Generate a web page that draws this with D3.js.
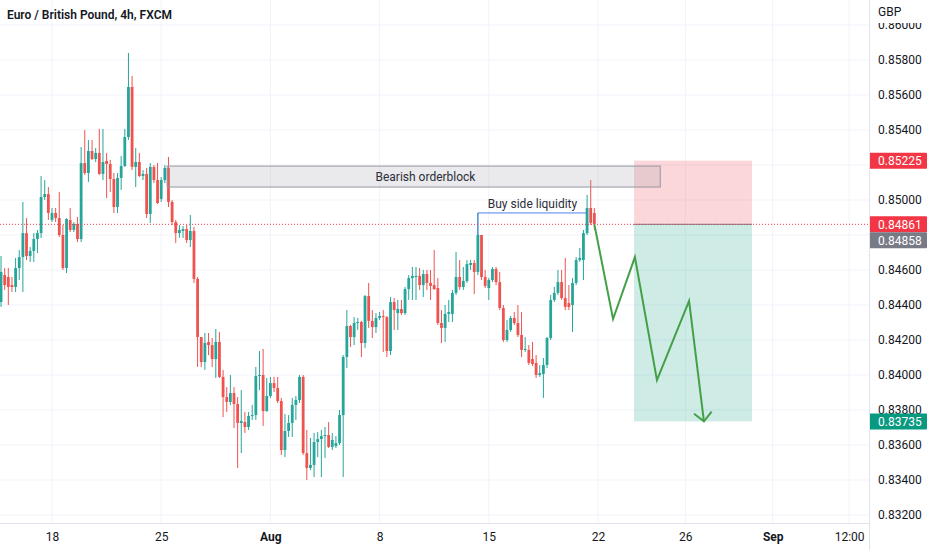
<!DOCTYPE html>
<html>
<head>
<meta charset="utf-8">
<script src="https://cdn.jsdelivr.net/npm/d3@7"></script>
<style>
  body { margin: 0; background: #fff; }
  svg { display: block; font-family: Roboto, "Noto Sans", sans-serif; }
</style>
</head>
<body>
<svg id="chart" width="932" height="550"></svg>
<script>
// =============================================================================
// EUR/GBP 4h candles with trade idea annotations
// =============================================================================

// --- candle data (GBP), oldest first ---
const opens = [
  0.84417,0.84571,0.84560,0.84514,0.84503,0.84611,0.84674,0.84811,0.84680,0.84709,
  0.84777,0.84811,0.85017,0.85034,0.84886,0.84926,0.84897,0.84800,0.84611,0.84886,
  0.84829,0.84863,0.84777,0.85211,0.85154,0.85280,0.85234,0.85269,0.85149,0.85223,
  0.85206,0.85120,0.84960,0.85126,0.85194,0.85360,0.85646,0.85189,0.85217,0.85137,
  0.85149,0.84920,0.85189,0.85114,0.85006,0.85114,0.85183,0.84989,0.84874,0.84811,
  0.84823,0.84834,0.84771,0.84823,0.84549,0.84217,0.84074,0.84189,0.84171,0.84091,
  0.84189,0.83989,0.83874,0.83846,0.83897,0.83834,0.83726,0.83731,0.83703,0.83766,
  0.83771,0.83994,0.84000,0.83794,0.83880,0.83954,0.83926,0.83851,0.83571,0.83680,
  0.83726,0.83829,0.83857,0.83989,0.83554,0.83469,0.83486,0.83617,0.83634,0.83651,
  0.83657,0.83589,0.83594,0.83611,0.83771,0.84103,0.84280,0.84217,0.84297,0.84303,
  0.84183,0.84451,0.84309,0.84274,0.84326,0.84337,0.84331,0.84137,0.84417,0.84354,
  0.84377,0.84354,0.84491,0.84554,0.84560,0.84566,0.84514,0.84577,0.84526,0.84514,
  0.84497,0.84297,0.84269,0.84349,0.84349,0.84469,0.84560,0.84503,0.84537,0.84629,
  0.84640,0.84589,0.84800,0.84560,0.84497,0.84543,0.84606,0.84531,0.84383,0.84200,
  0.84257,0.84326,0.84297,0.84229,0.84143,0.84143,0.84091,0.84069,0.84000,0.84006,
  0.84057,0.84211,0.84429,0.84469,0.84531,0.84440,0.84411,0.84400,0.84526,0.84657,
  0.84657,0.84811,0.84954,0.84926
];
const highs = [
  0.84680,0.84611,0.84611,0.84560,0.84669,0.84714,0.84989,0.84897,0.84731,0.84811,
  0.84829,0.85137,0.85114,0.85074,0.84954,0.84954,0.85046,0.84857,0.84897,0.84954,
  0.84874,0.84903,0.85303,0.85400,0.85343,0.85343,0.85297,0.85406,0.85406,0.85269,
  0.85229,0.85154,0.85154,0.85251,0.85406,0.85840,0.85709,0.85297,0.85269,0.85171,
  0.85183,0.85211,0.85200,0.85211,0.85131,0.85200,0.85246,0.85000,0.84886,0.84857,
  0.84851,0.84857,0.84914,0.84846,0.84560,0.84217,0.84240,0.84240,0.84211,0.84263,
  0.84246,0.84029,0.83931,0.84000,0.83931,0.83874,0.83914,0.83789,0.83789,0.83829,
  0.84046,0.84137,0.84149,0.83983,0.83989,0.83989,0.83989,0.83869,0.83777,0.83771,
  0.83869,0.83880,0.84000,0.84000,0.83686,0.83640,0.83669,0.83674,0.83686,0.83703,
  0.83731,0.83669,0.83651,0.83800,0.84114,0.84371,0.84286,0.84331,0.84326,0.84309,
  0.84457,0.84526,0.84371,0.84354,0.84360,0.84371,0.84337,0.84446,0.84440,0.84429,
  0.84429,0.84503,0.84571,0.84617,0.84617,0.84611,0.84600,0.84600,0.84600,0.84714,
  0.84554,0.84371,0.84400,0.84429,0.84486,0.84703,0.84657,0.84617,0.84657,0.84657,
  0.84657,0.84926,0.84800,0.84600,0.84554,0.84617,0.84617,0.84589,0.84400,0.84314,
  0.84337,0.84360,0.84400,0.84360,0.84217,0.84171,0.84189,0.84114,0.84057,0.84097,
  0.84217,0.84457,0.84503,0.84600,0.84600,0.84669,0.84514,0.84554,0.84674,0.84726,
  0.84829,0.85029,0.85114,0.84954
];
const lows = [
  0.84389,0.84486,0.84400,0.84474,0.84474,0.84543,0.84474,0.84657,0.84646,0.84646,
  0.84697,0.84783,0.85000,0.84886,0.84874,0.84874,0.84789,0.84600,0.84583,0.84817,
  0.84817,0.84760,0.84760,0.85143,0.85103,0.85229,0.85217,0.85143,0.85114,0.85011,
  0.85046,0.84926,0.84926,0.85057,0.85189,0.85343,0.85171,0.85074,0.85131,0.85114,
  0.84897,0.84869,0.85097,0.84977,0.84989,0.85097,0.84960,0.84857,0.84754,0.84783,
  0.84783,0.84754,0.84731,0.84526,0.84046,0.84046,0.84029,0.84114,0.84046,0.83983,
  0.83983,0.83760,0.83789,0.83829,0.83697,0.83469,0.83554,0.83669,0.83686,0.83743,
  0.83743,0.83914,0.83709,0.83789,0.83869,0.83903,0.83840,0.83543,0.83531,0.83646,
  0.83646,0.83743,0.83840,0.83543,0.83400,0.83457,0.83417,0.83531,0.83417,0.83526,
  0.83583,0.83571,0.83583,0.83600,0.83417,0.84040,0.84160,0.84171,0.84257,0.84103,
  0.84154,0.84269,0.84211,0.84240,0.84314,0.84131,0.84103,0.84114,0.84257,0.84257,
  0.84343,0.84343,0.84429,0.84429,0.84429,0.84486,0.84446,0.84486,0.84429,0.84486,
  0.84286,0.84183,0.84189,0.84303,0.84303,0.84457,0.84486,0.84486,0.84526,0.84600,
  0.84463,0.84571,0.84543,0.84497,0.84429,0.84531,0.84514,0.84371,0.84189,0.84189,
  0.84246,0.84286,0.84217,0.84103,0.84131,0.84057,0.84051,0.83983,0.83989,0.83869,
  0.84040,0.84200,0.84417,0.84457,0.84429,0.84371,0.84371,0.84246,0.84514,0.84646,
  0.84543,0.84800,0.84857,0.84829
];
const closes = [
  0.84589,0.84514,0.84503,0.84503,0.84611,0.84674,0.84811,0.84680,0.84709,0.84777,
  0.84811,0.85017,0.85034,0.84926,0.84926,0.84897,0.84800,0.84611,0.84891,0.84829,
  0.84863,0.84777,0.85211,0.85154,0.85280,0.85234,0.85269,0.85149,0.85217,0.85206,
  0.85120,0.84960,0.85126,0.85194,0.85360,0.85646,0.85189,0.85217,0.85137,0.85149,
  0.84920,0.85189,0.85114,0.84983,0.85114,0.85183,0.84989,0.84874,0.84811,0.84829,
  0.84834,0.84771,0.84823,0.84549,0.84217,0.84074,0.84183,0.84171,0.84091,0.84189,
  0.83989,0.83874,0.83846,0.83897,0.83834,0.83726,0.83737,0.83703,0.83766,0.83771,
  0.83994,0.84000,0.83794,0.83880,0.83954,0.83926,0.83851,0.83571,0.83680,0.83726,
  0.83829,0.83857,0.83989,0.83554,0.83469,0.83486,0.83617,0.83634,0.83651,0.83657,
  0.83589,0.83629,0.83611,0.83771,0.84103,0.84280,0.84217,0.84297,0.84303,0.84183,
  0.84451,0.84309,0.84274,0.84326,0.84337,0.84331,0.84137,0.84417,0.84371,0.84377,
  0.84354,0.84491,0.84554,0.84566,0.84566,0.84514,0.84577,0.84526,0.84509,0.84491,
  0.84297,0.84269,0.84349,0.84360,0.84469,0.84560,0.84503,0.84537,0.84634,0.84640,
  0.84589,0.84800,0.84560,0.84509,0.84543,0.84606,0.84531,0.84383,0.84200,0.84257,
  0.84326,0.84297,0.84229,0.84143,0.84149,0.84069,0.84063,0.84000,0.84011,0.84057,
  0.84211,0.84429,0.84469,0.84531,0.84440,0.84389,0.84389,0.84526,0.84657,0.84669,
  0.84811,0.84954,0.84869,0.84861
];

// time: trading days since Mon 18 Jul, 6 bars a day; first bar is 14 bars before
const barsPerDay = 6;
const firstBarOffset = -14;

// axis ticks
const priceTicks = [0.832,0.834,0.836,0.838,0.840,0.842,0.844,0.846,0.848,0.850,0.852,0.854,0.856,0.858,0.860];
const dayTicks   = [0, 5, 10, 15, 20, 25, 29, 33, 36.5];
const dayLabels  = ["18", "25", "Aug", "8", "15", "22", "26", "Sep", "12:00"];
const boldLabels = ["Aug", "Sep"];

// annotations
const orderBlock = { startDay: 5.27, endDay: 27.85, top: 0.85194, bottom: 0.85074,
                     label: "Bearish orderblock", labelDay: 17.1 };
const liquidity  = { fromBar: 131, toBar: 161, label: "Buy side liquidity" };
const position   = { startDay: 26.65, endDay: 32.05, stop: 0.85225, entry: 0.84861, target: 0.83735 };
const projDays   = [25.69, 26.69, 27.70, 29.17, 29.85];
const projPrices = [0.84320, 0.84674, 0.83971, 0.84423, 0.83735];
const lastPrice  = 0.84861;
const bidPrice   = 0.84858;

// -----------------------------------------------------------------------------
const svg = d3.select("#chart");
const plotW = 869, plotH = 523;

const x = d3.scaleLinear().domain([0, 25]).range([52, 598]);
const y = d3.scaleLinear().domain([0.832, 0.860]).range([515, 25]);
const barDay = i => (firstBarOffset + i) / barsPerDay;

const up = "#26a69a", down = "#ef5350";

svg.append("defs").append("clipPath").attr("id", "plotClip")
  .append("rect").attr("width", plotW).attr("height", plotH);

const plot = svg.append("g").attr("clip-path", "url(#plotClip)");

// grid
plot.append("g").selectAll("line").data(priceTicks).join("line")
  .attr("x1", 0).attr("x2", plotW)
  .attr("y1", d => y(d)).attr("y2", d => y(d))
  .attr("stroke", "#f0f3fa").attr("stroke-width", 1);
plot.append("g").selectAll("line").data(dayTicks).join("line")
  .attr("x1", d => x(d)).attr("x2", d => x(d))
  .attr("y1", 0).attr("y2", plotH)
  .attr("stroke", "#f0f3fa").attr("stroke-width", 1);

// long/short position box
const px0 = x(position.startDay), px1 = x(position.endDay);
plot.append("rect")
  .attr("x", px0).attr("width", px1 - px0)
  .attr("y", y(position.stop)).attr("height", y(position.entry) - y(position.stop))
  .attr("fill", "rgba(242,54,69,0.2)");
plot.append("rect")
  .attr("x", px0).attr("width", px1 - px0)
  .attr("y", y(position.entry)).attr("height", y(position.target) - y(position.entry))
  .attr("fill", "rgba(8,153,129,0.2)");
plot.append("line")
  .attr("x1", px0).attr("x2", px1)
  .attr("y1", y(position.entry)).attr("y2", y(position.entry))
  .attr("stroke", "#787b86").attr("stroke-width", 1);

// candles
const bars = d3.range(opens.length).map(i => ({
  t: barDay(i), o: opens[i], h: highs[i], l: lows[i], c: closes[i]
}));
const bodyW = 2.8;

const candle = plot.append("g").selectAll("g").data(bars).join("g");
candle.append("line")
  .attr("x1", d => x(d.t)).attr("x2", d => x(d.t))
  .attr("y1", d => y(d.h)).attr("y2", d => y(d.l))
  .attr("stroke", d => d.c >= d.o ? up : down).attr("stroke-width", 1);
candle.append("rect")
  .attr("x", d => x(d.t) - bodyW / 2).attr("width", bodyW)
  .attr("y", d => y(Math.max(d.o, d.c)))
  .attr("height", d => Math.max(1, Math.abs(y(d.o) - y(d.c))))
  .attr("fill", d => d.c >= d.o ? up : down);

// bearish order block
const obx0 = x(orderBlock.startDay), obx1 = x(orderBlock.endDay);
plot.append("rect")
  .attr("x", obx0).attr("width", obx1 - obx0)
  .attr("y", y(orderBlock.top)).attr("height", y(orderBlock.bottom) - y(orderBlock.top))
  .attr("fill", "rgba(149,152,161,0.2)")
  .attr("stroke", "#9598a1").attr("stroke-width", 1);
plot.append("text")
  .attr("x", x(orderBlock.labelDay))
  .attr("y", (y(orderBlock.top) + y(orderBlock.bottom)) / 2)
  .attr("dy", "0.35em").attr("text-anchor", "middle")
  .attr("font-size", 12).attr("fill", "#2a2e39")
  .text(orderBlock.label);

// buy side liquidity
const lq = liquidity.fromBar;
const lqPrice = highs[lq];
const lqPath = d3.line().x(d => x(d[0])).y(d => y(d[1]));
plot.append("path")
  .attr("d", lqPath([[barDay(lq), closes[lq]], [barDay(lq), lqPrice], [barDay(liquidity.toBar), lqPrice]]))
  .attr("fill", "none").attr("stroke", "#4f7fe8").attr("stroke-width", 1);
plot.append("text")
  .attr("x", (x(barDay(lq)) + x(barDay(liquidity.toBar))) / 2)
  .attr("y", y(lqPrice) - 5)
  .attr("text-anchor", "middle")
  .attr("font-size", 12).attr("fill", "#2a2e39")
  .text(liquidity.label);

// last price dotted line
plot.append("line")
  .attr("x1", 0).attr("x2", plotW)
  .attr("y1", y(lastPrice)).attr("y2", y(lastPrice))
  .attr("stroke", "#f23645").attr("stroke-width", 1)
  .attr("stroke-dasharray", "1,2");

// projected path + arrow head
const last = bars.length - 1;
const proj = [[barDay(last), closes[last]]].concat(projDays.map((d, i) => [d, projPrices[i]]));
const projPts = proj.map(p => [x(p[0]), y(p[1])]);
plot.append("path")
  .attr("d", d3.line()(projPts))
  .attr("fill", "none").attr("stroke", "#43a047").attr("stroke-width", 2)
  .attr("stroke-linejoin", "miter");
const tip = projPts[projPts.length - 1], prev = projPts[projPts.length - 2];
const back = Math.atan2(prev[1] - tip[1], prev[0] - tip[0]);
const headLen = 12.5, headAng = Math.PI / 4;
const head = [
  [tip[0] + headLen * Math.cos(back - headAng), tip[1] + headLen * Math.sin(back - headAng)],
  tip,
  [tip[0] + headLen * Math.cos(back + headAng), tip[1] + headLen * Math.sin(back + headAng)]
];
plot.append("path")
  .attr("d", d3.line()(head))
  .attr("fill", "none").attr("stroke", "#43a047").attr("stroke-width", 2);

// --- price axis ---
const tags = [
  { v: position.stop, color: "#f23645" },
  { v: lastPrice, color: "#f23645" },
  { v: bidPrice, color: "#787b86" },
  { v: position.target, color: "#089981" }
];
const tagH = 16;
let prevBottom = -Infinity;
tags.sort((a, b) => b.v - a.v).forEach(tg => {
  let cy = y(tg.v);
  if (cy - tagH / 2 < prevBottom) cy = prevBottom + tagH / 2;
  prevBottom = cy + tagH / 2;
  tg.cy = cy;
});
// tick labels that sit under a price tag are hidden
const shownTicks = priceTicks.filter(v => tags.every(tg => Math.abs(y(v) - tg.cy) > 10));

const axisG = svg.append("g");
axisG.append("rect").attr("x", plotW).attr("y", 0).attr("width", 932 - plotW).attr("height", 550).attr("fill", "#fff");

const yAxis = axisG.append("g")
  .attr("transform", `translate(${plotW},0)`)
  .call(d3.axisRight(y).tickValues(shownTicks).tickFormat(d3.format(".5f")).tickSize(0).tickPadding(9));
yAxis.select(".domain").remove();
yAxis.selectAll("text").attr("font-size", 12).attr("font-family", "Roboto, sans-serif").attr("fill", "#131722");

axisG.append("rect").attr("x", plotW + 1).attr("y", 0).attr("width", 932 - plotW).attr("height", 23).attr("fill", "#fff");
axisG.append("text").attr("x", plotW + 9).attr("y", 12).attr("dy", "0.35em")
  .attr("font-size", 12).attr("fill", "#131722").text("GBP");

tags.forEach(tg => {
  axisG.append("rect")
    .attr("x", plotW).attr("y", tg.cy - tagH / 2).attr("width", 58).attr("height", tagH)
    .attr("rx", 1).attr("fill", tg.color);
  axisG.append("text")
    .attr("x", plotW + 9).attr("y", tg.cy).attr("dy", "0.35em")
    .attr("font-size", 12).attr("fill", "#fff")
    .text(d3.format(".5f")(tg.v));
});

axisG.append("line").attr("x1", plotW + 0.5).attr("x2", plotW + 0.5).attr("y1", 0).attr("y2", 550)
  .attr("stroke", "#e0e3eb");

// --- time axis ---
svg.append("line").attr("x1", 0).attr("x2", plotW).attr("y1", plotH + 0.5).attr("y2", plotH + 0.5)
  .attr("stroke", "#e0e3eb");
const xAxis = svg.append("g")
  .attr("transform", `translate(0,${plotH})`)
  .call(d3.axisBottom(x).tickValues(dayTicks).tickFormat((d, i) => dayLabels[i]).tickSize(0).tickPadding(9));
xAxis.select(".domain").remove();
xAxis.selectAll("text")
  .attr("font-size", 12).attr("font-family", "Roboto, sans-serif").attr("fill", "#131722")
  .attr("font-weight", (d, i) => boldLabels.includes(dayLabels[i]) ? 700 : 400);

// title
svg.append("text").attr("x", 7).attr("y", 19)
  .attr("font-size", 12).attr("font-weight", 600).attr("fill", "#131722")
  .text("Euro / British Pound, 4h, FXCM");
</script>
</body>
</html>
